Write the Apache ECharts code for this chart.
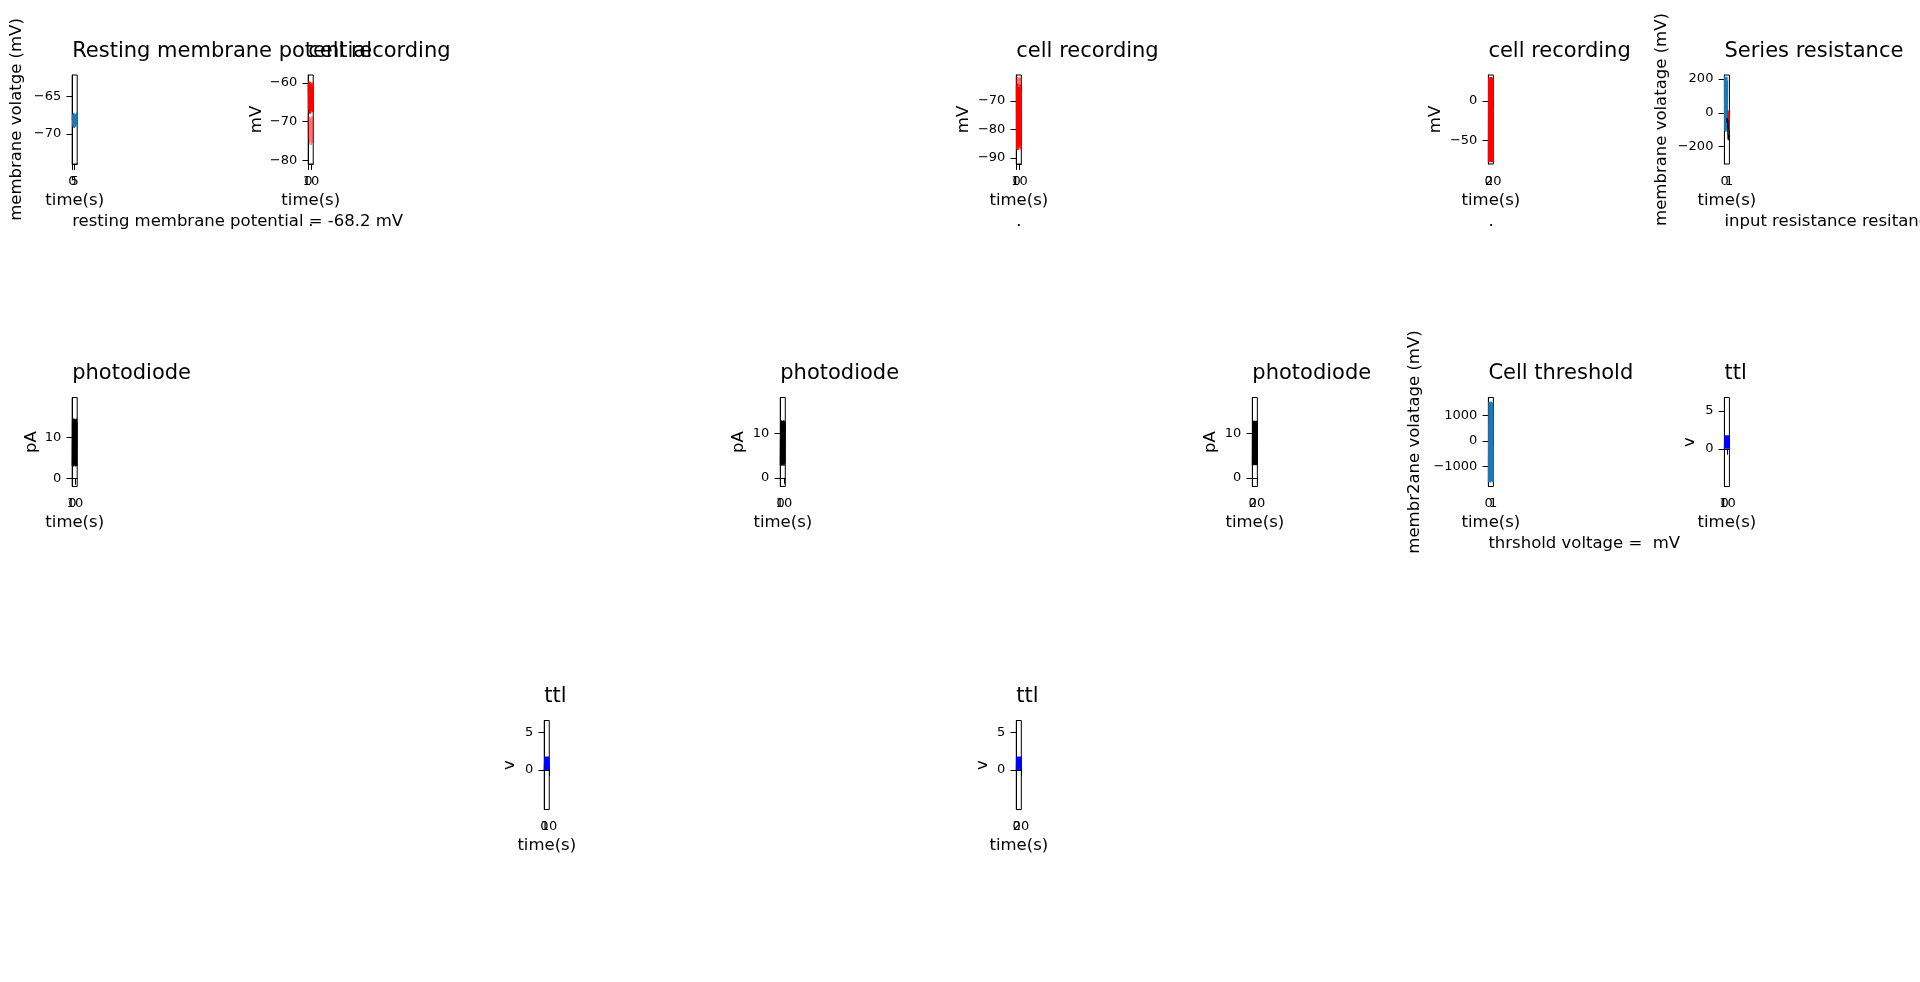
<!DOCTYPE html>
<html>
<head>
<meta charset="utf-8">
<title>cell recording summary</title>
<script src="https://cdn.jsdelivr.net/npm/echarts@6/dist/echarts.min.js"></script>
<style>
  html, body { margin: 0; padding: 0; background: #fff; }
  #root { width: 1920px; height: 982px; }
</style>
</head>
<body>
<div id="root"></div>
<script>
// values
const restTime = [0, 0.5, 1, 1.5, 2, 2.5, 3, 3.5, 4, 4.5, 5, 5.5, 6, 6.5, 7, 7.5, 8, 8.5, 9, 9.5, 10];
const restMv = [-68.1, -67.4, -68.9, -67.8, -69.1, -67.2, -68.5, -68.0, -69.2, -67.5, -68.3, -68.8, -67.3, -68.6, -67.9, -69.0, -67.6, -68.4, -68.7, -67.1, -68.2];

const cellTimeA = [0, 1, 2, 3, 4, 5, 6, 7, 8, 9, 10, 11, 12, 13, 14, 15, 16, 17, 18];
const cellMvA = [-60.2, -66.8, -59.6, -67.9, -61.0, -66.1, -59.8, -68.0, -62.5, -65.3, -60.4, -67.2, -63.1, -66.4, -59.9, -67.6, -61.6, -64.8, -60.8];
const cellMvA2 = [-68.4, -74.2, -69.5, -75.9, -70.3, -73.1, -68.9, -75.2, -71.4, -74.6, -69.2, -76.0, -70.8, -73.8, -68.6, -75.5, -71.9, -74.0, -69.7];

const cellTimeB = [0, 1, 2, 3, 4, 5, 6, 7, 8, 9, 10, 11, 12, 13, 14, 15, 15.5];
const cellMvB = [-64.5, -86.9, -66.2, -85.4, -64.0, -87.2, -67.8, -84.1, -65.1, -86.3, -66.9, -85.8, -64.3, -83.7, -65.6, -87.0, -66.4];
const cellMvB2 = [-61.6, -64.8, -62.0, -65.1, -61.5, -64.4, -62.7, -65.0, -61.9, -64.6, -62.3, -64.9, -61.7, -64.2, -62.5, -65.2, -62.1];

const cellTimeC = [0, 1, 2, 3, 4, 5, 6, 7, 8, 9, 10, 11, 12, 13, 14, 15, 16, 17, 18, 19, 20];
const cellMvC = [-77.5, 29.8, -76.2, 28.4, -78.0, 30.1, -75.9, 27.6, -77.1, 29.2, -76.8, 30.4, -77.9, 28.8, -75.4, 29.5, -78.1, 27.9, -76.5, 30.0, -77.3];

const resBlueTime = [0, 0.06, 0.12, 0.18, 0.24, 0.3, 0.36, 0.42, 0.48, 0.54, 0.6];
const resBlue = [214, -108, 210, -95, 205, -112, 198, -60, 212, -100, 190];
const resRedTime = [0.72, 0.76, 0.8, 0.84, 0.88, 0.92, 0.96, 1.0];
const resRed = [15, 2, 12, -78, -96, -84, -99, 0];
const resBlackTime = [0.55, 0.6, 0.65, 0.7, 0.75, 0.8, 0.85, 0.9];
const resBlack = [-32, -58, -41, -55, -125, -158, -131, -162];

const photoTimeA = [0, 1, 2, 3, 4, 5, 6, 7, 8, 9, 10, 11, 12, 13, 14, 15, 16, 17];
const photoA = [3.1, 14.6, 3.4, 14.2, 3.0, 14.7, 3.6, 13.9, 3.2, 14.5, 3.3, 14.1, 3.0, 14.4, 3.5, 14.7, 3.1, 13.8];
const photoTimeB = [0, 1, 2, 3, 4, 5, 6, 7, 8, 9, 10, 11, 12, 13];
const photoB = [2.8, 12.9, 3.1, 12.6, 2.7, 12.8, 3.0, 12.4, 2.9, 12.9, 2.7, 12.5, 3.2, 12.7];
const photoTimeC = [0, 1, 2, 3, 4, 5, 6, 7, 8, 9, 10, 11, 12, 13, 14, 15, 16, 17, 18, 19, 20];
const photoC = [2.9, 12.7, 3.1, 12.4, 2.8, 12.8, 3.2, 12.2, 2.9, 12.6, 3.0, 12.8, 2.8, 12.3, 3.1, 12.7, 2.9, 12.5, 3.0, 12.8, 2.8];

const threshTime = [0, 0.1, 0.2, 0.3, 0.4, 0.5, 0.6, 0.7, 0.8, 0.9, 1];
const threshMv = [-1610, 1520, -1580, 1490, -1620, 1530, -1550, 1500, -1600, 1480, -1590];

const ttlTimeA = [0, 1, 2, 3, 4, 5, 6, 7, 8, 9, 10, 11, 12, 13, 14, 15, 15.7];
const ttlA = [0, 1.8, 0, 1.8, 0, 1.8, 0, 1.8, 0, 1.8, 0, 1.8, 0, 1.8, 0, 1.8, 0];
const ttlTimeB = [0, 1, 2, 3, 4, 5, 6, 7, 8, 9, 10];
const ttlB = [0, 1.8, 0, 1.8, 0, 1.8, 0, 1.8, 0, 1.8, 0];
const ttlTimeC = [0, 1, 2, 3, 4, 5, 6, 7, 8, 9, 10, 11, 12, 13, 14, 15, 16, 17, 18, 19, 20];
const ttlC = [0, 1.8, 0, 1.8, 0, 1.8, 0, 1.8, 0, 1.8, 0, 1.8, 0, 1.8, 0, 1.8, 0, 1.8, 0, 1.8, 0];

// tick labels
const ticks05 = [0, 5];
const ticks010 = [0, 10];
const ticks020 = [0, 20];
const ticks01 = [0, 1];
const restTicks = [-70, -65];
const cellTicksA = [-80, -70, -60];
const cellTicksB = [-90, -80, -70];
const cellTicksC = [-50, 0];
const resTicks = [-200, 0, 200];
const photoTicks = [0, 10];
const threshTicks = [-1000, 0, 1000];
const ttlTicks = [0, 5];

const FONT = 'DejaVu Sans';
const BLUE = '#1f77b4';
const COL_X = 72.2;
const COL_STEP = 236.03;
const ROW_Y = [75, 397.5, 720.5];
const BOX_W = 5;
const BOX_H = 89;

const panels = [
  { title: 'Resting membrane potential', col: 0, row: 0, yName: 'membrane volatge (mV)', yGap: 47,
    xr: [-0.5, 10.5], xt: ticks05, yr: [-74, -62.1], yt: restTicks,
    lines: [[restTime, restMv, BLUE]], note: 'resting membrane potential = -68.2 mV' },
  { title: 'cell recording', col: 1, row: 0, yName: 'mV', yGap: 43,
    xr: [-0.9, 18.9], xt: ticks010, yr: [-80.9, -58], yt: cellTicksA,
    lines: [[cellTimeA, cellMvA2, 'rgba(255,0,0,0.55)'], [cellTimeA, cellMvA, 'red']], note: '.' },
  { title: 'cell recording', col: 4, row: 0, yName: 'mV', yGap: 44,
    xr: [-0.78, 16.28], xt: ticks010, yr: [-92.1, -60.9], yt: cellTicksB,
    lines: [[cellTimeB, cellMvB2, 'rgba(255,0,0,0.55)'], [cellTimeB, cellMvB, 'red']], note: '.' },
  { title: 'cell recording', col: 6, row: 0, yName: 'mV', yGap: 44,
    xr: [-1, 21], xt: ticks020, yr: [-80.2, 33], yt: cellTicksC,
    lines: [[cellTimeC, cellMvC, 'red']], note: '.' },
  { title: 'Series resistance', col: 7, row: 0, yName: 'membrane volatage (mV)', yGap: 54,
    xr: [-0.05, 1.05], xt: ticks01, yr: [-302, 223], yt: resTicks,
    lines: [[resBlueTime, resBlue, BLUE], [resRedTime, resRed, 'red'], [resBlackTime, resBlack, '#000']],
    note: 'input resistance resitance' },
  { title: 'photodiode', col: 0, row: 1, yName: 'pA', yGap: 32,
    xr: [-0.85, 17.85], xt: ticks010, yr: [-1.9, 19.8], yt: photoTicks,
    lines: [[photoTimeA, photoA, '#000']] },
  { title: 'photodiode', col: 3, row: 1, yName: 'pA', yGap: 33,
    xr: [-0.65, 13.65], xt: ticks010, yr: [-1.95, 18], yt: photoTicks,
    lines: [[photoTimeB, photoB, '#000']] },
  { title: 'photodiode', col: 5, row: 1, yName: 'pA', yGap: 33,
    xr: [-1, 21], xt: ticks020, yr: [-1.95, 18], yt: photoTicks,
    lines: [[photoTimeC, photoC, '#000']] },
  { title: 'Cell threshold', col: 6, row: 1, yName: 'membr2ane volatage (mV)', yGap: 65,
    xr: [-0.05, 1.05], xt: ticks01, yr: [-1778, 1689], yt: threshTicks,
    lines: [[threshTime, threshMv, BLUE]], note: 'thrshold voltage =  mV' },
  { title: 'ttl', col: 7, row: 1, yName: 'v', yGap: 26.5,
    xr: [-0.785, 16.485], xt: ticks010, yr: [-5, 6.8], yt: ttlTicks,
    lines: [[ttlTimeA, ttlA, 'blue']] },
  { title: 'ttl', col: 2, row: 2, yName: 'v', yGap: 26,
    xr: [-0.5, 10.5], xt: ticks010, yr: [-5.2, 6.55], yt: ttlTicks,
    lines: [[ttlTimeB, ttlB, 'blue']] },
  { title: 'ttl', col: 4, row: 2, yName: 'v', yGap: 25.5,
    xr: [-1, 21], xt: ticks020, yr: [-5.2, 6.55], yt: ttlTicks,
    lines: [[ttlTimeC, ttlC, 'blue']] },
];

const minus = (v) => String(v).replace('-', '\u2212');
const txt = (size) => ({ fontSize: size, fontFamily: FONT, color: '#000', fontWeight: 'normal' });
const line = { show: true, lineStyle: { color: '#000', width: 1 } };

const grid = [];
const xAxis = [];
const yAxis = [];
const series = [];
const title = [];
const n = panels.length;

panels.forEach((p, i) => {
  const left = COL_X + COL_STEP * p.col;
  const top = ROW_Y[p.row];
  grid[i] = {
    left, top, width: BOX_W, height: BOX_H,
    show: true, borderColor: '#000', borderWidth: 1, backgroundColor: '#fff',
    containLabel: false, outerBoundsMode: 'none',
  };
  // the two x tick labels overlap like in the original, ECharts would drop one
  // of them, so the second one is drawn by a twin axis on an identical grid
  grid[n + i] = {
    left, top, width: BOX_W, height: BOX_H, show: false,
    containLabel: false, outerBoundsMode: 'none',
  };
  xAxis[i] = {
    type: 'value', gridIndex: i, min: p.xr[0], max: p.xr[1],
    name: 'time(s)', nameLocation: 'middle', nameGap: 28, nameTextStyle: txt(16.5),
    axisLine: line,
    axisTick: { show: true, length: 6, lineStyle: { color: '#000' }, customValues: p.xt },
    axisLabel: { show: true, margin: 11, ...txt(13), customValues: p.xt.slice(0, 1), formatter: minus },
    splitLine: { show: false },
  };
  xAxis[n + i] = {
    type: 'value', gridIndex: n + i, min: p.xr[0], max: p.xr[1],
    axisLine: { show: false },
    axisTick: { show: false },
    axisLabel: { show: true, margin: 11, ...txt(13), customValues: p.xt.slice(1), formatter: minus },
    splitLine: { show: false },
  };
  yAxis[i] = {
    type: 'value', gridIndex: i, min: p.yr[0], max: p.yr[1],
    name: p.yName, nameLocation: 'middle', nameRotate: 90, nameGap: p.yGap, nameTextStyle: txt(16.5),
    axisLine: line,
    axisTick: { show: true, length: 6, lineStyle: { color: '#000' }, customValues: p.yt },
    axisLabel: { show: true, margin: 11, ...txt(13), customValues: p.yt, formatter: minus },
    splitLine: { show: false },
  };
  yAxis[n + i] = {
    type: 'value', gridIndex: n + i, min: p.yr[0], max: p.yr[1], show: false,
  };
  p.lines.forEach(([t, v, color]) => {
    series.push({
      type: 'line', xAxisIndex: i, yAxisIndex: i,
      data: t.map((x, k) => [x, v[k]]),
      showSymbol: false, symbol: 'none', clip: true,
      lineStyle: { color, width: 1.6 },
      itemStyle: { color },
    });
  });
  title.push({
    text: p.title, left, top: top - 34, padding: 0, textStyle: txt(21),
  });
  if (p.note) {
    title.push({
      text: p.note, left, top: top + BOX_H + 49, padding: 0, textStyle: txt(16.5),
    });
  }
});

const myChart = echarts.init(document.getElementById('root'));
myChart.setOption({
  animation: false,
  backgroundColor: '#fff',
  title,
  grid,
  xAxis,
  yAxis,
  series,
});
</script>
</body>
</html>
